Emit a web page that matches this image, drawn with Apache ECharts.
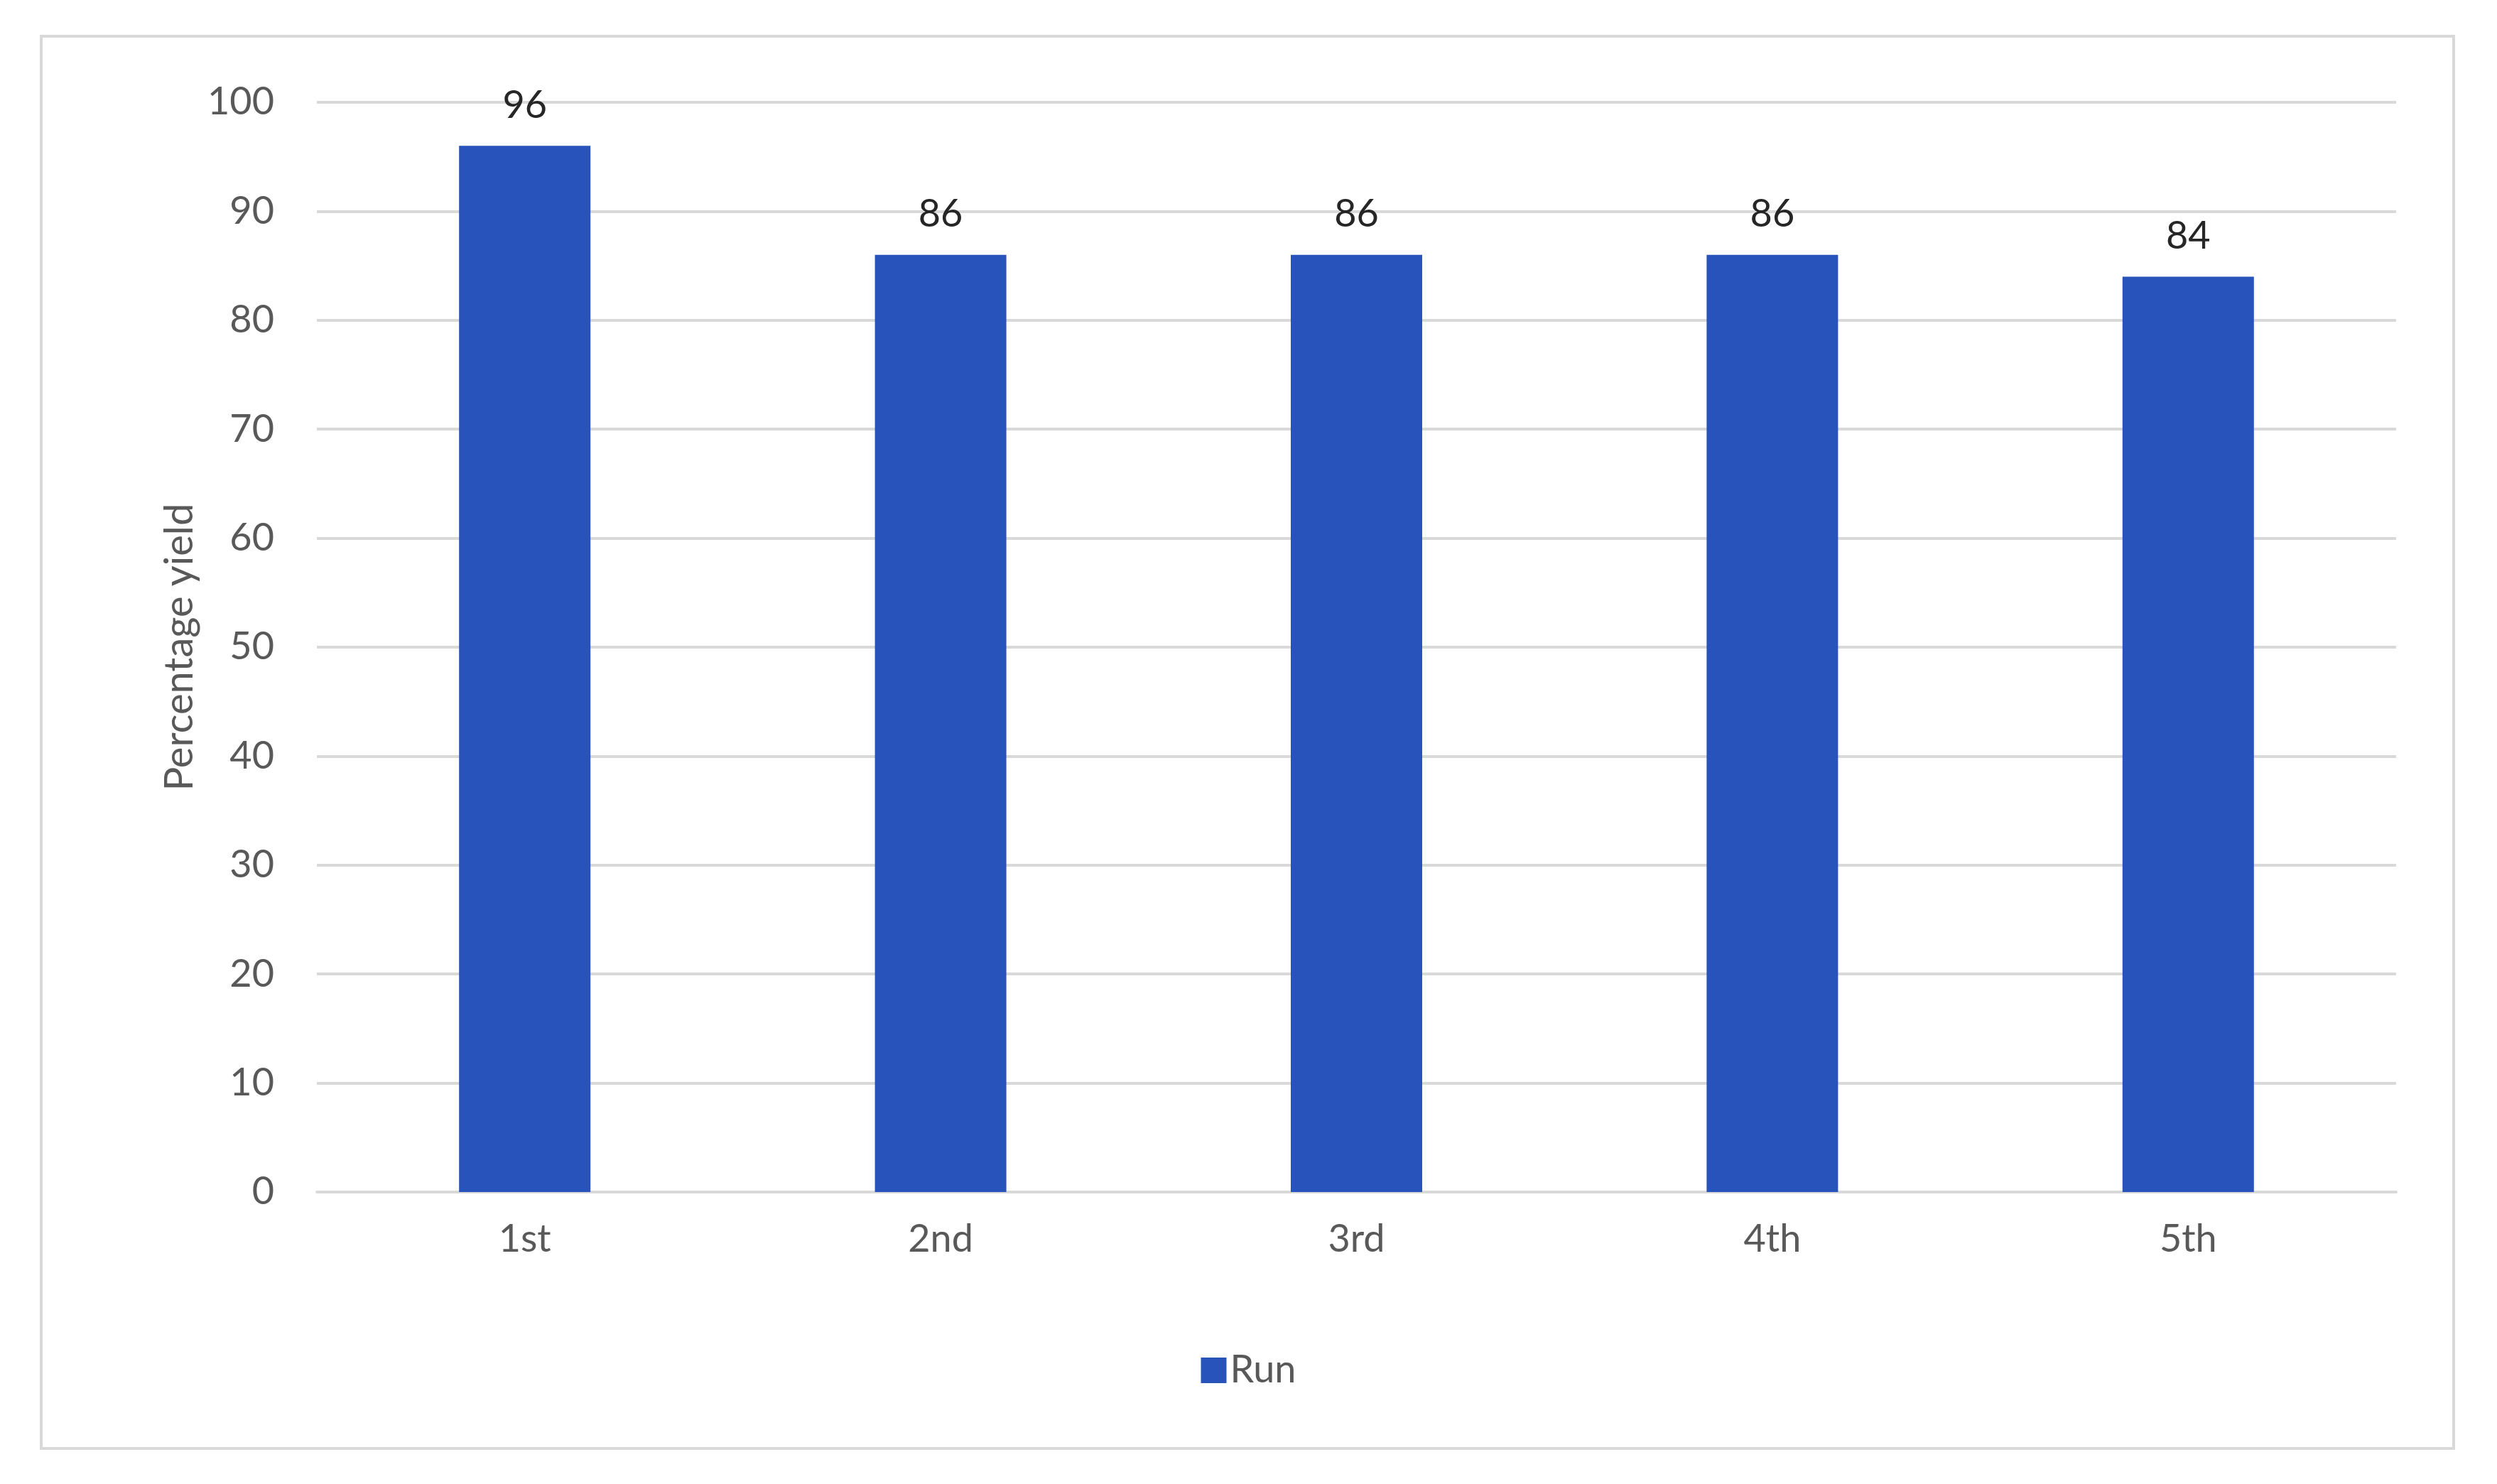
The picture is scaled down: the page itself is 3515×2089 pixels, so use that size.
<!DOCTYPE html>
<html>
<head>
<meta charset="utf-8">
<script src="https://cdn.jsdelivr.net/npm/echarts@6/dist/echarts.min.js"></script>
<style>
  html, body { margin: 0; padding: 0; background: #fff; }
  #chart { width: 3515px; height: 2089px; }
  #frame { position: absolute; left: 56px; top: 49px; width: 3400px; height: 1992px; border: 4px solid #d9d9d9; box-sizing: border-box; pointer-events: none; }
</style>
</head>
<body>
<div id="chart"></div>
<div id="frame"></div>
<script>
var categories = ['1st', '2nd', '3rd', '4th', '5th'];
var runValues = [96, 86, 86, 86, 84];
var yTicks = { min: 0, max: 100, interval: 10 };

var chart = echarts.init(document.getElementById('chart'));
var font = 'Lato, "Open Sans", sans-serif';
chart.setOption({
    textStyle: { fontFamily: font },
    grid: { left: 446, right: 142, top: 144, bottom: 411 },
    legend: {
        data: ['Run'],
        bottom: 128,
        left: 'center',
        itemWidth: 36,
        itemHeight: 36,
        icon: 'rect',
        textStyle: { fontSize: 54, color: '#595959', fontFamily: font }
    },
    xAxis: {
        type: 'category',
        data: categories,
        axisTick: { show: false },
        axisLine: { lineStyle: { color: '#d9d9d9', width: 4 } },
        axisLabel: { fontSize: 54, color: '#595959', margin: 40 }
    },
    yAxis: {
        type: 'value',
        min: yTicks.min,
        max: yTicks.max,
        interval: yTicks.interval,
        name: 'Percentage yield',
        nameLocation: 'middle',
        nameGap: 150,
        nameTextStyle: { fontSize: 56, color: '#595959' },
        axisLine: { show: false },
        axisTick: { show: false },
        axisLabel: { fontSize: 54, color: '#595959', margin: 60 },
        splitLine: { lineStyle: { color: '#d9d9d9', width: 4 } }
    },
    series: [{
        name: 'Run',
        type: 'bar',
        data: runValues,
        barWidth: 185,
        itemStyle: { color: '#2853BA' },
        label: { show: true, position: 'top', distance: 30, fontSize: 54, color: '#262626' }
    }]
});
</script>
</body>
</html>
